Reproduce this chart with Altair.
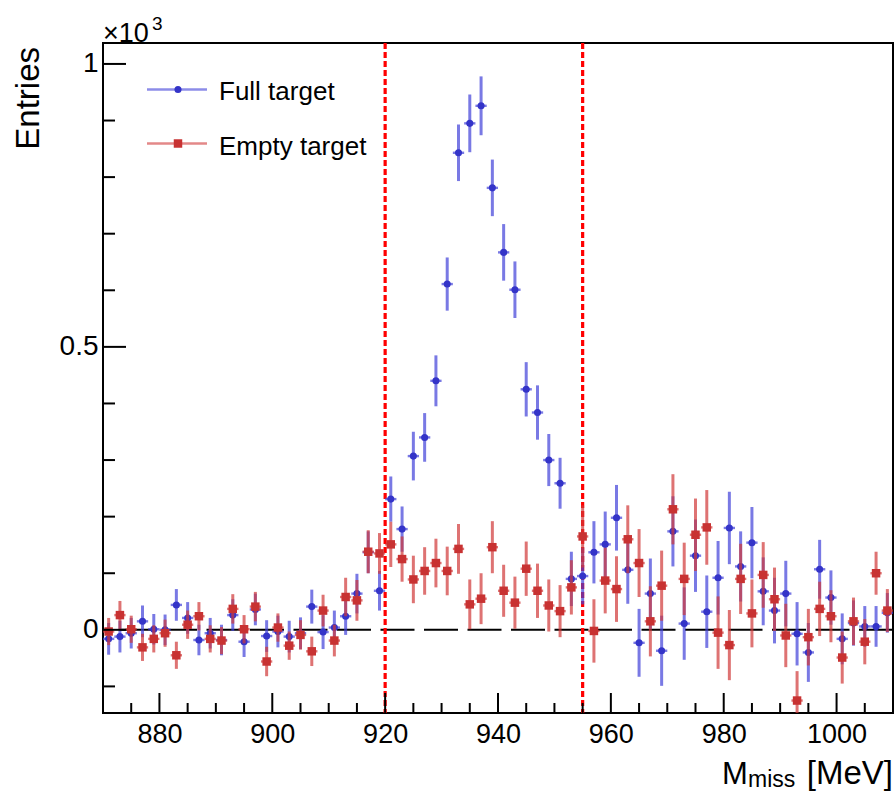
import altair as alt
import pandas as pd

# ---------------- data (entries per 2 MeV bin) ----------------
mass = list(range(871, 1011, 2))  # bin centres [MeV]

full = [-16, -12, -6, 15, 1, 0, 44, 21, -18, -6,
        -18, 26, -21, 36, -11, -3, -12, -6, 41, -4,
        4, 24, 64, 137, 69, 231, 178, 307, 340, 440,
        611, 843, 895, 926, 781, 667, 601, 425, 384, 300,
        259, 90, 95, 137, 151, 198, 106, -23, 64, -37,
        174, 11, 131, 32, 92, 180, 112, 154, 68, 34,
        64, -7, -40, 107, 57, -16, 12, 6, 6, 30]
full_err = [28, 28, 27, 28, 27, 27, 28, 28, 27, 27,
            27, 28, 27, 28, 28, 28, 28, 28, 30, 30,
            30, 33, 35, 37, 35, 40, 40, 43, 43, 45,
            47, 50, 51, 52, 50, 50, 50, 48, 48, 46,
            45, 48, 50, 55, 58, 58, 60, 60, 62, 62,
            62, 64, 64, 64, 65, 64, 62, 63, 60, 58,
            58, 56, 52, 52, 48, 45, 40, 36, 36, 35]

empty = [-3, 26, 1, -31, -16, -6, -45, 9, 24, -16,
         -19, 37, 1, 41, -56, 4, -28, -9, -38, 34,
         -19, 58, 52, 138, 135, 151, 125, 89, 104, 118,
         104, 143, 45, 55, 146, 69, 48, 108, 69, 43,
         33, 75, 165, -2, 87, 72, 160, 118, 15, 78,
         213, 90, 168, 181, -5, -27, 90, 29, 97, 54,
         -10, -125, -13, 37, 24, -49, 15, -21, 100, 34]
empty_err = [24, 25, 24, 24, 24, 24, 24, 25, 25, 24,
             24, 26, 25, 26, 26, 25, 25, 26, 26, 28,
             28, 34, 36, 38, 36, 40, 40, 42, 42, 43,
             43, 44, 44, 45, 46, 46, 46, 48, 48, 46,
             46, 48, 55, 56, 58, 58, 60, 60, 62, 62,
             62, 64, 64, 66, 64, 62, 62, 60, 58, 56,
             56, 52, 50, 48, 46, 46, 42, 40, 38, 38]

cut_lines = [920, 955]
x_major = [880, 900, 920, 940, 960, 980, 1000]
x_minor = [v for v in range(875, 1010, 5) if v not in x_major]
y_major = [0, 0.5, 1]
y_minor = [-0.1, 0.1, 0.2, 0.3, 0.4, 0.6, 0.7, 0.8, 0.9]

# ---------------- styling ----------------
W, H = 790, 670
FONT = "Liberation Sans"
BLUE = "#3434c8"
RED = "#c83232"
BLUE_BAR = "#4040d8"
RED_BAR = "#d03838"

xs = alt.Scale(domain=[870, 1010], nice=False, zero=False)
ys = alt.Scale(domain=[-0.147, 1.037], nice=False, zero=False)


def table(vals, errs):
    return pd.DataFrame({
        "m": mass,
        "m_lo": [m - 1 for m in mass],
        "m_hi": [m + 1 for m in mass],
        "v": [v / 1000 for v in vals],
        "lo": [(v - e) / 1000 for v, e in zip(vals, errs)],
        "hi": [(v + e) / 1000 for v, e in zip(vals, errs)],
    })


df_full = table(full, full_err)
df_empty = table(empty, empty_err)

x_axis = alt.Axis(values=x_major, format="d", ticks=False, domain=False, grid=False,
                  labelFont=FONT, labelFontSize=27, labelColor="black",
                  labelPadding=8, title=None)
y_axis = alt.Axis(values=y_major, format="~g", ticks=False, domain=False, grid=False,
                  labelFont=FONT, labelFontSize=28, labelColor="black",
                  labelPadding=5, title=None)


def X(field):
    return alt.X(field, scale=xs, axis=x_axis)


def Y(field):
    return alt.Y(field, scale=ys, axis=y_axis)


def series(df, bar_col, mk_col, marker, size):
    base = alt.Chart(df)
    vb = base.mark_rule(color=bar_col, strokeWidth=3, opacity=0.7, clip=True).encode(
        x=X("m:Q"), y=Y("lo:Q"), y2="hi:Q")
    hb = base.mark_rule(color=bar_col, strokeWidth=2.4, opacity=0.7, clip=True).encode(
        x=X("m_lo:Q"), x2="m_hi:Q", y=Y("v:Q"))
    if marker == "circle":
        mk = base.mark_circle(color=mk_col, size=size, opacity=1, clip=True)
    else:
        mk = base.mark_square(color=mk_col, size=size, opacity=1, clip=True)
    mk = mk.encode(x=X("m:Q"), y=Y("v:Q"))
    return [vb, hb, mk]


one = pd.DataFrame({"a": [0]})

zero_line = alt.Chart(one).mark_rule(color="black", strokeWidth=2, strokeDash=[34, 9.5]).encode(
    y=alt.Y(datum=0, scale=ys, axis=y_axis))

cuts = alt.Chart(pd.DataFrame({"c": cut_lines})).mark_rule(
    color="#ff0000", strokeWidth=3.2, strokeDash=[6, 3]).encode(x=X("c:Q"))

xt_major = alt.Chart(pd.DataFrame({"t": x_major})).mark_rule(color="black", strokeWidth=2).encode(
    x=X("t:Q"), y=alt.value(H), y2=alt.value(H - 20))
xt_minor = alt.Chart(pd.DataFrame({"t": x_minor})).mark_rule(color="black", strokeWidth=2).encode(
    x=X("t:Q"), y=alt.value(H), y2=alt.value(H - 10))
yt_major = alt.Chart(pd.DataFrame({"t": y_major})).mark_rule(color="black", strokeWidth=2).encode(
    y=Y("t:Q"), x=alt.value(0), x2=alt.value(23))
yt_minor = alt.Chart(pd.DataFrame({"t": y_minor})).mark_rule(color="black", strokeWidth=2).encode(
    y=Y("t:Q"), x=alt.value(0), x2=alt.value(12))

# legend
leg = []
for yy, ty, col, bcol, mk, sz, label in [
        (46.5, 57, BLUE, BLUE_BAR, "circle", 50, "Full target"),
        (100.5, 112, RED, RED_BAR, "square", 72, "Empty target")]:
    leg.append(alt.Chart(one).mark_rule(color=bcol, strokeWidth=2.4, opacity=0.6).encode(
        x=alt.value(44), x2=alt.value(104), y=alt.value(yy)))
    if mk == "circle":
        leg.append(alt.Chart(one).mark_circle(color=col, size=sz, opacity=1).encode(
            x=alt.value(75), y=alt.value(yy)))
    else:
        leg.append(alt.Chart(one).mark_square(color=col, size=sz, opacity=1).encode(
            x=alt.value(75), y=alt.value(yy)))
    leg.append(alt.Chart(one).mark_text(text=label, align="left", baseline="alphabetic",
                                        font=FONT, fontSize=26, color="black").encode(
        x=alt.value(116), y=alt.value(ty)))

# titles
titles = [
    alt.Chart(one).mark_text(text="Entries", angle=270, align="right", baseline="alphabetic",
                             font=FONT, fontSize=33, color="black").encode(
        x=alt.value(-64), y=alt.value(4)),
    alt.Chart(one).mark_text(text="\u00d710", align="left", baseline="alphabetic",
                             font=FONT, fontSize=27, color="black").encode(
        x=alt.value(0), y=alt.value(-1)),
    alt.Chart(one).mark_text(text="3", align="left", baseline="alphabetic",
                             font=FONT, fontSize=19, color="black").encode(
        x=alt.value(49), y=alt.value(-13)),
    alt.Chart(one).mark_text(text="[MeV]", align="right", baseline="alphabetic",
                             font=FONT, fontSize=33, color="black").encode(
        x=alt.value(W), y=alt.value(H + 71)),
    alt.Chart(one).mark_text(text="M", align="left", baseline="alphabetic",
                             font=FONT, fontSize=31, color="black").encode(
        x=alt.value(619), y=alt.value(H + 71)),
    alt.Chart(one).mark_text(text="miss", align="left", baseline="alphabetic",
                             font=FONT, fontSize=23, color="black").encode(
        x=alt.value(645), y=alt.value(H + 74)),
]

layers = ([zero_line, cuts]
          + series(df_full, BLUE_BAR, BLUE, "circle", 50)
          + series(df_empty, RED_BAR, RED, "square", 72)
          + [xt_major, xt_minor, yt_major, yt_minor]
          + leg + titles)

chart = alt.layer(*layers).properties(
    width=W, height=H,
    padding={"left": 103, "top": 43, "right": 2, "bottom": 78},
    autosize=alt.AutoSizeParams(type="none"),
    background="white",
).configure_view(stroke="black", strokeWidth=2)

chart.save("out.html", embed_options={"renderer": "svg", "actions": False})
